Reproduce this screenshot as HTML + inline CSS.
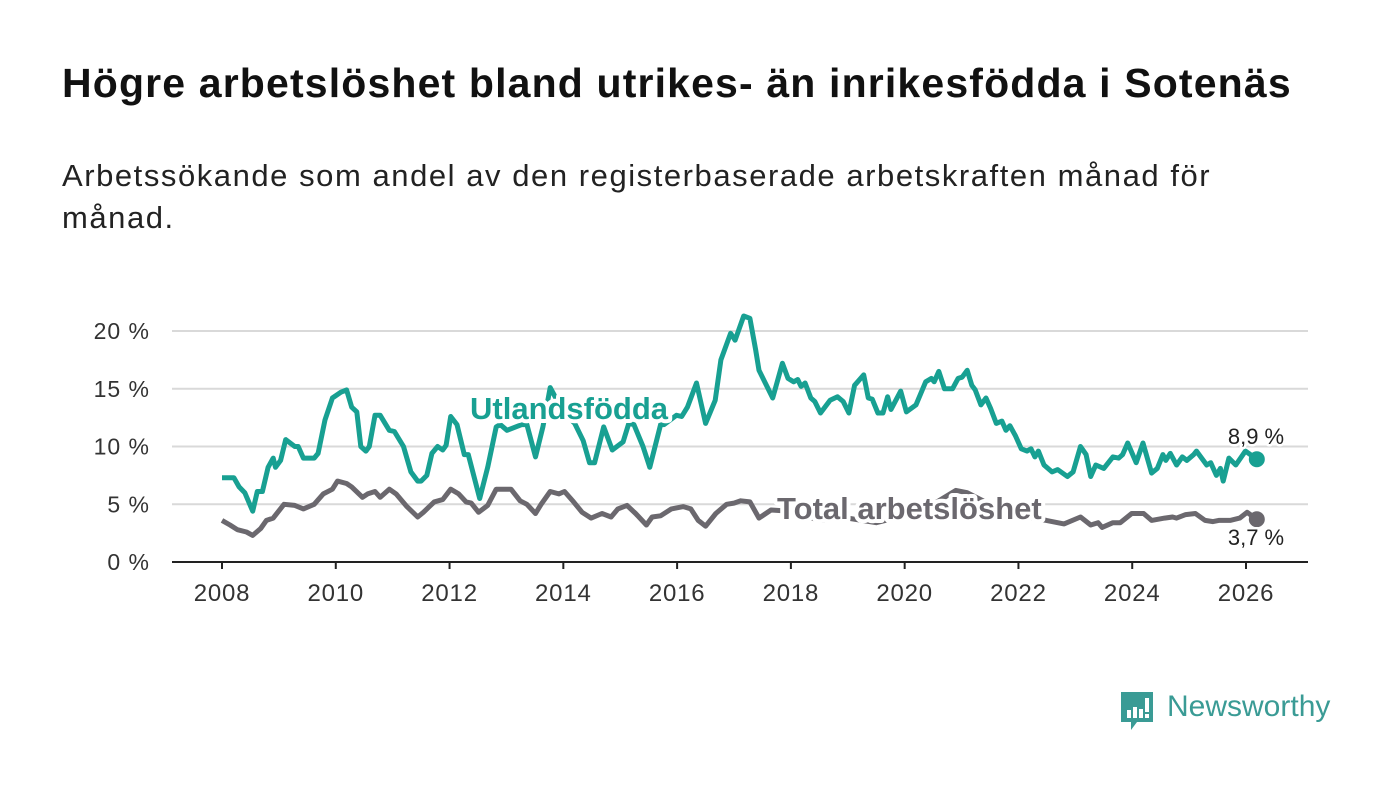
<!DOCTYPE html>
<html><head><meta charset="utf-8">
<style>
body{margin:0;background:#fff;width:1400px;height:794px;overflow:hidden;font-family:"Liberation Sans","DejaVu Sans",sans-serif;}
h1{position:absolute;left:62px;top:60px;margin:0;font-size:41px;font-weight:bold;color:#111;letter-spacing:1.15px;white-space:nowrap;}
.sub{position:absolute;left:62px;top:155px;margin:0;font-size:31px;line-height:42px;color:#222;width:1320px;letter-spacing:1.55px;}
svg{position:absolute;left:0;top:0;}
</style></head><body>
<h1>Högre arbetslöshet bland utrikes- än inrikesfödda i Sotenäs</h1>
<p class="sub">Arbetssökande som andel av den registerbaserade arbetskraften månad för<br>månad.</p>
<svg id="chart" width="1400" height="794"></svg>
<div style="position:absolute;left:1119px;top:690px;">
<svg width="36" height="44" style="position:absolute;left:0;top:0"><path d="M2 2h32v30H18l-6 8v-8H2z" fill="#3a9b95"/><rect x="8" y="20" width="4" height="8" fill="#fff"/><rect x="14" y="17" width="4" height="11" fill="#fff"/><rect x="20" y="19" width="4" height="9" fill="#fff"/><rect x="26" y="8" width="4" height="14" fill="#fff"/><rect x="26" y="24" width="4" height="4" fill="#fff"/></svg>
<span style="position:absolute;left:48px;top:0px;font-size:30px;color:#3a9b95;font-weight:500;white-space:nowrap;">Newsworthy</span>
</div>
<script>
const years=[2008,2010,2012,2014,2016,2018,2020,2022,2024,2026];
const yTicks=[0,5,10,15,20];
const foreignX=[2008.0,2008.21,2008.3,2008.4,2008.54,2008.62,2008.71,2008.81,2008.9,2008.94,2009.03,2009.12,2009.28,2009.34,2009.43,2009.62,2009.69,2009.81,2009.94,2010.09,2010.19,2010.28,2010.37,2010.44,2010.53,2010.59,2010.69,2010.78,2010.88,2010.94,2011.03,2011.19,2011.32,2011.44,2011.5,2011.6,2011.69,2011.79,2011.88,2011.94,2012.02,2012.13,2012.26,2012.33,2012.53,2012.67,2012.82,2012.89,2013.01,2013.27,2013.36,2013.51,2013.64,2013.77,2014.0,2014.2,2014.35,2014.46,2014.55,2014.71,2014.86,2015.05,2015.15,2015.24,2015.4,2015.52,2015.71,2015.77,2015.99,2016.08,2016.18,2016.34,2016.5,2016.67,2016.77,2016.94,2017.02,2017.17,2017.28,2017.38,2017.44,2017.68,2017.85,2017.95,2018.05,2018.12,2018.18,2018.25,2018.35,2018.42,2018.52,2018.69,2018.82,2018.92,2019.02,2019.12,2019.28,2019.36,2019.43,2019.53,2019.62,2019.7,2019.76,2019.93,2020.03,2020.2,2020.37,2020.47,2020.52,2020.6,2020.7,2020.84,2020.94,2021.01,2021.1,2021.18,2021.24,2021.34,2021.43,2021.51,2021.61,2021.71,2021.78,2021.85,2021.95,2022.05,2022.15,2022.22,2022.29,2022.35,2022.45,2022.59,2022.69,2022.86,2022.96,2023.09,2023.19,2023.27,2023.36,2023.5,2023.66,2023.76,2023.83,2023.92,2024.07,2024.19,2024.34,2024.44,2024.54,2024.59,2024.67,2024.78,2024.88,2024.96,2025.08,2025.13,2025.31,2025.38,2025.48,2025.55,2025.6,2025.7,2025.82,2025.99,2026.19];
const foreignV=[7.3,7.3,6.5,6.0,4.4,6.1,6.1,8.2,9.0,8.2,8.8,10.6,10.0,10.0,9.0,9.0,9.4,12.3,14.2,14.7,14.9,13.4,13.0,10.0,9.6,10.0,12.7,12.7,11.9,11.4,11.3,10.0,7.8,7.0,7.0,7.5,9.4,10.0,9.7,10.1,12.6,11.9,9.3,9.3,5.5,8.2,11.7,11.9,11.4,11.9,11.9,9.1,11.7,15.1,13.0,12.0,10.5,8.6,8.6,11.7,9.7,10.4,12.0,11.9,10.0,8.2,11.9,11.9,12.7,12.6,13.4,15.5,12.0,14.0,17.5,19.8,19.2,21.3,21.1,18.4,16.6,14.2,17.2,15.9,15.6,15.8,15.2,15.5,14.2,13.9,12.9,14.0,14.3,13.9,12.9,15.3,16.2,14.2,14.1,12.9,12.9,14.3,13.2,14.8,13.0,13.6,15.6,15.9,15.6,16.5,15.0,15.0,15.9,16.0,16.6,15.3,14.9,13.6,14.2,13.3,12.0,12.2,11.4,11.8,10.9,9.8,9.6,9.8,9.1,9.6,8.4,7.8,8.0,7.4,7.8,10.0,9.3,7.4,8.4,8.1,9.1,9.0,9.3,10.3,8.6,10.3,7.7,8.1,9.3,8.8,9.4,8.4,9.1,8.8,9.3,9.6,8.4,8.6,7.5,8.1,7.0,9.0,8.4,9.6,8.9];
const totalX=[2008.0,2008.14,2008.27,2008.43,2008.54,2008.68,2008.78,2008.9,2009.09,2009.28,2009.43,2009.62,2009.78,2009.94,2010.03,2010.19,2010.28,2010.47,2010.56,2010.69,2010.78,2010.94,2011.06,2011.25,2011.44,2011.54,2011.73,2011.88,2012.02,2012.16,2012.29,2012.38,2012.51,2012.67,2012.82,2012.92,2013.08,2013.24,2013.36,2013.51,2013.61,2013.77,2013.92,2014.02,2014.18,2014.33,2014.49,2014.68,2014.84,2014.96,2015.12,2015.27,2015.46,2015.56,2015.71,2015.9,2016.11,2016.24,2016.37,2016.5,2016.68,2016.87,2017.0,2017.12,2017.28,2017.44,2017.65,2018.0,2018.5,2019.0,2019.5,2020.0,2020.5,2020.9,2021.1,2021.5,2022.0,2022.49,2022.8,2023.09,2023.27,2023.4,2023.47,2023.66,2023.79,2023.99,2024.2,2024.34,2024.57,2024.71,2024.78,2024.94,2025.11,2025.28,2025.42,2025.52,2025.72,2025.89,2026.02,2026.19];
const totalV=[3.6,3.2,2.8,2.6,2.3,2.9,3.6,3.8,5.0,4.9,4.6,5.0,5.9,6.3,7.0,6.8,6.5,5.6,5.9,6.1,5.6,6.3,5.9,4.8,3.9,4.3,5.2,5.4,6.3,5.9,5.2,5.1,4.3,4.9,6.3,6.3,6.3,5.3,5.0,4.2,5.0,6.1,5.9,6.1,5.2,4.3,3.8,4.2,3.9,4.6,4.9,4.2,3.2,3.9,4.0,4.6,4.8,4.6,3.6,3.1,4.2,5.0,5.1,5.3,5.2,3.8,4.5,4.4,3.6,3.8,3.4,4.0,5.0,6.2,6.0,5.0,4.0,3.6,3.3,3.9,3.2,3.4,3.0,3.4,3.4,4.2,4.2,3.6,3.8,3.9,3.8,4.1,4.2,3.6,3.5,3.6,3.6,3.8,4.3,3.7];

const NS='http://www.w3.org/2000/svg';
const svg=document.getElementById('chart');
const X0=222,X1=1246,Y0=562,Y20=331;
const xs=y=>X0+(y-2008)*(X1-X0)/18;
const ys=v=>Y0-v*(Y0-Y20)/20;
function mk(tag,attrs,parent){const e=document.createElementNS(NS,tag);for(const k in attrs)e.setAttribute(k,attrs[k]);(parent||svg).appendChild(e);return e;}
yTicks.forEach(t=>{
  if(t>0){const g=mk('line',{x1:172,x2:1308,y1:ys(t),y2:ys(t),stroke:'#d9d9d9','stroke-width':2});
  
  }
  const l=mk('text',{x:150,y:ys(t)+8,'text-anchor':'end','font-size':23,'letter-spacing':1,fill:'#333','font-family':'Liberation Sans, sans-serif'});
  l.textContent=t+' %';
  
  
});
const ax=mk('line',{x1:172,x2:1308,y1:Y0,y2:Y0,stroke:'#222','stroke-width':2});


years.forEach(y=>{
  const t=mk('line',{x1:xs(y),x2:xs(y),y1:Y0,y2:Y0+7,stroke:'#222','stroke-width':2});
  
  
  const l=mk('text',{x:xs(y),y:601,'text-anchor':'middle','font-size':24,'letter-spacing':0.8,fill:'#333','font-family':'Liberation Sans, sans-serif'});
  l.textContent=y;
  
  
});
function line(xa,va,color,name){
  const d=xa.map((x,i)=>(i?'L':'M')+xs(x).toFixed(1)+' '+ys(va[i]).toFixed(1)).join(' ');
  const p=mk('path',{d:d,fill:'none',stroke:color,'stroke-width':5,'stroke-linejoin':'round'});
  
  
  const n=xa.length-1;
  const c=mk('circle',{cx:xs(xa[n]),cy:ys(va[n]),r:8,fill:color});
  
  
}
line(totalX,totalV,'#6b686e','total-line');
line(foreignX,foreignV,'#18a092','foreign-born-line');
function lab(x,y,txt,color,name,size,bold,anchor){
  const t=mk('text',{x:x,y:y,'font-size':size,'font-weight':bold?'bold':'normal',fill:color,'text-anchor':anchor||'start','font-family':'Liberation Sans, sans-serif',stroke:'#fff','stroke-width':bold?8:5,'paint-order':'stroke','stroke-linejoin':'round'});
  t.textContent=txt;
  
  
}
lab(470,419,'Utlandsfödda','#18a092','foreign-born-label',31,true);
lab(777,519,'Total arbetslöshet','#6b686e','total-label',31,true);
lab(1256,444,(foreignV[foreignV.length-1]+'').replace('.',',')+' %','#222','foreign-end-value',22,false,'middle');
lab(1256,545,(totalV[totalV.length-1]+'').replace('.',',')+' %','#222','total-end-value',22,false,'middle');
</script>
</body></html>
